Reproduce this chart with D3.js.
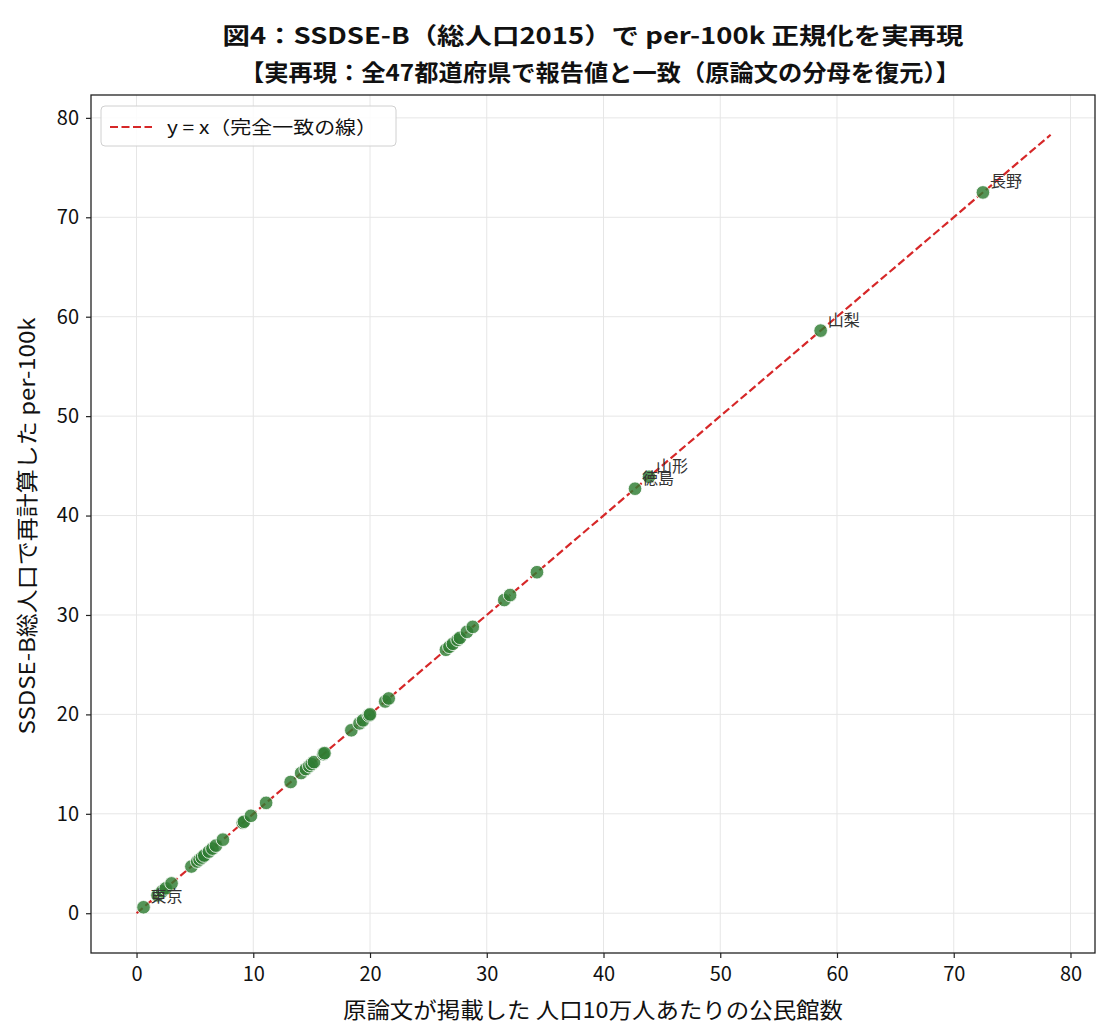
<!DOCTYPE html>
<html>
<head>
<meta charset="utf-8">
<script src="https://cdn.jsdelivr.net/npm/d3@7"></script>
<style>
  body { margin: 0; background: #fff; }
  svg { display: block; font-family: "Noto Sans CJK JP", "Noto Sans", sans-serif; }
</style>
</head>
<body>
<div id="chart"></div>
<script>
// 原論文の報告値（x）と SSDSE-B 総人口で再計算した値（y）
const reported = [0.6, 1.8, 2.2, 2.5, 3.0, 4.7, 5.2, 5.4, 5.6, 5.8, 6.2, 6.5, 6.8, 7.4,
  9.1, 9.2, 9.8, 11.1, 13.2, 14.1, 14.5, 14.8, 15.0, 15.2, 16.0, 16.1, 18.4, 19.1,
  19.4, 19.9, 20.0, 21.3, 21.6, 26.5, 26.8, 27.1, 27.5, 27.7, 28.3, 28.8, 31.5,
  32.0, 34.3, 42.7, 43.9, 58.6, 72.5];
const recomputed = [0.6, 1.8, 2.2, 2.5, 3.0, 4.7, 5.2, 5.4, 5.6, 5.8, 6.2, 6.5, 6.8, 7.4,
  9.1, 9.2, 9.8, 11.1, 13.2, 14.1, 14.5, 14.8, 15.0, 15.2, 16.0, 16.1, 18.4, 19.1,
  19.4, 19.9, 20.0, 21.3, 21.6, 26.5, 26.8, 27.1, 27.5, 27.7, 28.3, 28.8, 31.5,
  32.0, 34.3, 42.7, 43.9, 58.6, 72.5];

// ラベル付きの県
const labelNames = ['東京', '徳島', '山形', '山梨', '長野'];
const labelX = [0.6, 42.7, 43.9, 58.6, 72.5];
const labelY = [0.6, 42.7, 43.9, 58.6, 72.5];

// y = x の線の端点
const lineEnds = [0, 78.3];

const xTicks = [0, 10, 20, 30, 40, 50, 60, 70, 80];
const yTicks = [0, 10, 20, 30, 40, 50, 60, 70, 80];

const W = 1110, H = 1035;
const margin = { left: 91, right: 15, top: 95, bottom: 82 };

const svg = d3.select("#chart").append("svg")
    .attr("width", W)
    .attr("height", H);

const x = d3.scaleLinear().domain([-3.9, 82.1]).range([margin.left, W - margin.right]);
const y = d3.scaleLinear().domain([-4.0, 82.3]).range([H - margin.bottom, margin.top]);

// グリッド
const grid = svg.append("g");
grid.selectAll(".gx").data(xTicks).enter().append("line")
    .attr("x1", d => x(d)).attr("x2", d => x(d))
    .attr("y1", margin.top).attr("y2", H - margin.bottom)
    .attr("stroke", "#e6e6e6").attr("stroke-width", 1);
grid.selectAll(".gy").data(yTicks).enter().append("line")
    .attr("x1", margin.left).attr("x2", W - margin.right)
    .attr("y1", d => y(d)).attr("y2", d => y(d))
    .attr("stroke", "#e6e6e6").attr("stroke-width", 1);

// y = x
svg.append("line")
    .attr("x1", x(lineEnds[0])).attr("y1", y(lineEnds[0]))
    .attr("x2", x(lineEnds[1])).attr("y2", y(lineEnds[1]))
    .attr("stroke", "#d62728")
    .attr("stroke-width", 2.2)
    .attr("stroke-dasharray", "8,3.5");

// 点
svg.append("g").selectAll("circle")
    .data(reported.map((v, i) => [v, recomputed[i]]))
    .enter().append("circle")
    .attr("cx", d => x(d[0]))
    .attr("cy", d => y(d[1]))
    .attr("r", 6.8)
    .attr("fill", "#2e7d32")
    .attr("fill-opacity", 0.82)
    .attr("stroke", "#fff")
    .attr("stroke-width", 0.8);

// ラベル
svg.append("g").selectAll("text")
    .data(labelNames)
    .enter().append("text")
    .attr("x", (d, i) => x(labelX[i]) + 7)
    .attr("y", (d, i) => y(labelY[i]) - 5)
    .attr("font-size", 16)
    .attr("fill", "#333")
    .text(d => d);

// 軸
const xAxis = svg.append("g")
    .attr("transform", `translate(0,${H - margin.bottom})`)
    .call(d3.axisBottom(x).tickValues(xTicks).tickSize(5).tickPadding(9));
const yAxis = svg.append("g")
    .attr("transform", `translate(${margin.left},0)`)
    .call(d3.axisLeft(y).tickValues(yTicks).tickSize(5).tickPadding(7));
[xAxis, yAxis].forEach(a => {
    a.select(".domain").remove();
    a.selectAll("text").attr("font-size", 20).attr("fill", "#111")
        .attr("font-family", "'Noto Sans CJK JP', sans-serif");
    a.selectAll("line").attr("stroke", "#222").attr("stroke-width", 1.2);
});

// 枠
svg.append("rect")
    .attr("x", margin.left).attr("y", margin.top)
    .attr("width", W - margin.left - margin.right)
    .attr("height", H - margin.top - margin.bottom)
    .attr("fill", "none")
    .attr("stroke", "#222")
    .attr("stroke-width", 1.3);

// 凡例
const legend = svg.append("g");
legend.append("rect")
    .attr("x", 101).attr("y", 106).attr("width", 295).attr("height", 40)
    .attr("rx", 4)
    .attr("fill", "#fff").attr("fill-opacity", 0.85)
    .attr("stroke", "#d0d0d0");
legend.append("line")
    .attr("x1", 110).attr("x2", 152).attr("y1", 127).attr("y2", 127)
    .attr("stroke", "#d62728").attr("stroke-width", 2.2)
    .attr("stroke-dasharray", "8,3.5");
legend.append("text")
    .attr("x", 167).attr("y", 134)
    .attr("font-size", 18).attr("fill", "#111")
    .attr("textLength", 210).attr("lengthAdjust", "spacingAndGlyphs")
    .text("y = x（完全一致の線）");

// タイトル
svg.append("text")
    .attr("x", 593).attr("y", 44)
    .attr("text-anchor", "middle")
    .attr("font-size", 23).attr("font-weight", "bold").attr("fill", "#111")
    .attr("textLength", 741).attr("lengthAdjust", "spacingAndGlyphs")
    .text("図4：SSDSE-B（総人口2015）で per-100k 正規化を実再現");
svg.append("text")
    .attr("x", 600).attr("y", 81)
    .attr("text-anchor", "middle")
    .attr("font-size", 23).attr("font-weight", "bold").attr("fill", "#111")
    .attr("textLength", 720).attr("lengthAdjust", "spacingAndGlyphs")
    .text("【実再現：全47都道府県で報告値と一致（原論文の分母を復元）】");

// 軸ラベル
svg.append("text")
    .attr("x", 593).attr("y", 1018)
    .attr("text-anchor", "middle")
    .attr("font-size", 22).attr("fill", "#111")
    .attr("textLength", 500).attr("lengthAdjust", "spacingAndGlyphs")
    .text("原論文が掲載した 人口10万人あたりの公民館数");
svg.append("text")
    .attr("transform", "translate(35,526) rotate(-90)")
    .attr("text-anchor", "middle")
    .attr("font-size", 22).attr("fill", "#111")
    .attr("textLength", 417).attr("lengthAdjust", "spacingAndGlyphs")
    .text("SSDSE-B総人口で再計算した per-100k");
</script>
</body>
</html>
